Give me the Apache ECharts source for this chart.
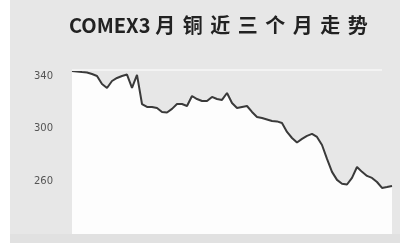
<!DOCTYPE html>
<html>
<head>
<meta charset="utf-8">
<script src="https://cdn.jsdelivr.net/npm/echarts@6/dist/echarts.min.js"></script>
<style>
  html, body { margin: 0; padding: 0; background: #fff; }
  #chart { width: 400px; height: 243px; }
</style>
</head>
<body>
<div id="chart"></div>
<script>
// title pieces
const titleLatin = 'COMEX3';
const titleCjk = ['月', '铜', '近', '三', '个', '月', '走', '势'];

// y axis ticks
const yTicks = [260, 300, 340];

// trading days (no labels shown on the original)
const days = [];
for (let i = 1; i <= 65; i++) days.push(String(i));

// COMEX copper price
const prices = [
  343.8, 343.4, 343.0, 342.7, 341.5, 340.0, 333.9, 330.9, 336.2, 338.5,
  340.0, 341.1, 330.9, 340.8, 318.7, 316.5, 316.5, 315.7, 312.7, 312.3,
  315.0, 318.7, 318.7, 317.2, 324.8, 322.5, 321.0, 321.0, 324.1, 322.5,
  321.8, 327.1, 319.5, 315.7, 316.5, 317.2, 312.7, 308.9, 308.1, 307.0,
  305.8, 305.5, 304.3, 297.5, 292.9, 289.5, 292.2, 294.5, 296.0, 293.7,
  287.6, 277.0, 267.2, 261.1, 258.1, 257.6, 262.6, 270.9, 267.2, 264.1,
  262.6, 259.5, 255.0, 255.7, 256.5
];

const chart = echarts.init(document.getElementById('chart'));

let titleText = '{a|' + titleLatin + '}';
titleCjk.forEach(function (c) { titleText += '{c|' + c + '}'; });

chart.setOption({
  backgroundColor: '#ffffff',
  animation: false,
  graphic: [
    { type: 'rect', z: -10, shape: { x: 10, y: 0, width: 390, height: 234 }, style: { fill: '#e7e7e7' } },
    { type: 'rect', z: -10, shape: { x: 10, y: 234, width: 390, height: 9 }, style: { fill: '#e1e1e1' } }
  ],
  title: {
    text: titleText,
    left: 64,
    top: 10,
    textStyle: {
      rich: {
        a: { fontFamily: 'Noto Sans CJK SC', fontWeight: 'bold', fontSize: 20, color: '#222', padding: [0, 1, 0, 0] },
        c: { fontFamily: 'Noto Sans CJK SC', fontWeight: 'bold', fontSize: 20, color: '#222', width: 27.5, align: 'center' }
      }
    }
  },
  grid: { left: 72, right: 8, top: 69.4, bottom: 9 },
  xAxis: {
    type: 'category',
    data: days,
    boundaryGap: false,
    axisLine: { show: false },
    axisTick: { show: false },
    axisLabel: { show: false },
    splitLine: { show: false }
  },
  yAxis: {
    type: 'value',
    min: 220,
    max: 345,
    interval: 40,
    axisLine: { show: false },
    axisTick: { show: false },
    splitLine: { show: false },
    axisLabel: {
      margin: 19,
      fontFamily: 'DejaVu Sans',
      fontSize: 10,
      color: '#555',
      formatter: function (v) { return yTicks.indexOf(v) >= 0 ? String(v) : ''; }
    }
  },
  series: [{
    type: 'line',
    data: prices,
    symbol: 'none',
    lineStyle: { color: '#3a3a3a', width: 2 },
    areaStyle: { color: '#fdfdfd', opacity: 1 },
    markLine: {
      silent: true,
      symbol: 'none',
      label: { show: false },
      lineStyle: { color: '#f3f3f3', width: 2, type: 'solid' },
      data: [[{ xAxis: 0, yAxis: 344.6 }, { xAxis: 62, yAxis: 344.6 }]]
    }
  }]
});
</script>
</body>
</html>
